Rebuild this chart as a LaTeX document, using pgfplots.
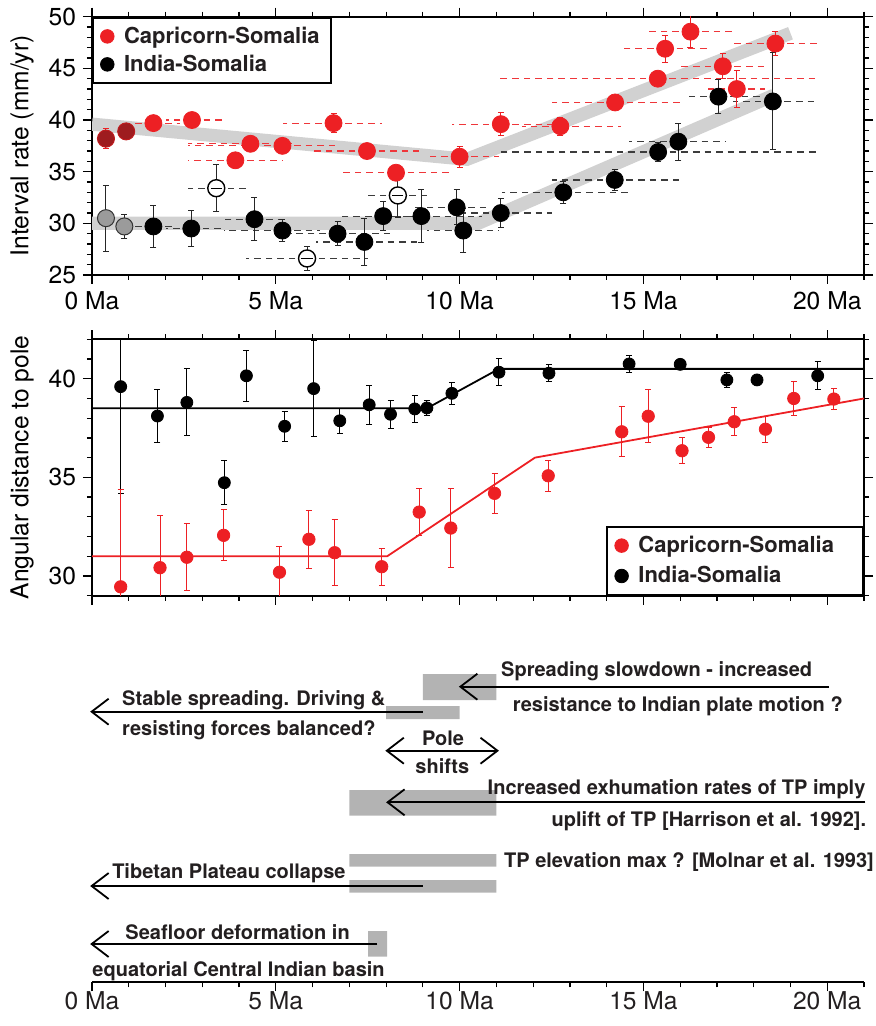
\documentclass[border=0pt]{standalone}
\usepackage{fontspec}
\setmainfont{TeX Gyre Heros}
\usepackage{pgfplots}
\usepackage{pgfplotstable}
\pgfplotsset{compat=1.18}
\usetikzlibrary{arrows.meta}
\definecolor{cred}{RGB}{237,32,36}
\definecolor{cdark}{RGB}{158,28,31}
\definecolor{cgraypt}{RGB}{155,155,155}
\definecolor{cband}{RGB}{209,209,209}
\definecolor{cbox}{RGB}{179,179,179}
\definecolor{ctext}{RGB}{35,31,32}
\definecolor{cdash}{RGB}{60,60,60}

\pgfplotstableread{
x y ey xa xb
0.38 38.2 0.97 0.38 0.38
0.93 38.9 0 0.93 0.93
}\capTopDark
\pgfplotstableread{
x y ey xa xb
1.67 39.7 0 0.9 2.4
2.72 40.0 0.7 2.0 3.6
3.90 36.1 0 2.6 5.2
4.31 37.7 0 2.6 5.5
5.18 37.5 0 2.6 6.75
6.57 39.7 0.9 5.2 7.9
7.48 37.0 0 6.0 8.9
8.27 34.9 0 6.75 9.75
10.00 36.45 1.0 9.1 11.07
11.12 39.6 1.1 9.8 12.5
12.74 39.4 0.85 11.7 14.4
14.23 41.7 0 12.5 16.0
15.39 44.0 0 11.07 19.75
15.59 46.9 1.3 14.4 16.75
16.28 48.55 1.55 15.1 17.4
17.16 45.2 1.2 16.0 18.3
17.54 43.0 1.8 16.75 18.3
18.59 47.4 1.2 17.43 19.75
}\capTop
\pgfplotstableread{
x y ey xa xb
0.38 30.5 3.2 0.38 0.38
0.88 29.7 1.15 0.73 1.3
}\indGray
\pgfplotstableread{
x y ey xa xb
3.38 33.4 2.3 2.6 4.2
5.85 26.6 1.2 4.2 7.5
8.32 32.7 2.1 7.5 9.1
}\indOpen
\pgfplotstableread{
x y ey xa xb
1.67 29.7 2.0 1.0 2.3
2.70 29.5 1.77 2.0 3.6
4.42 30.4 2.1 3.6 5.1
5.18 29.3 1.1 3.6 6.2
6.68 29.0 1.15 5.4 8.1
7.41 28.2 2.3 6.1 8.85
7.92 30.7 1.4 6.8 9.1
8.96 30.7 2.6 7.9 10.6
9.92 31.55 1.7 8.75 10.85
10.10 29.3 2.1 9.1 11.07
11.12 31.0 1.4 10.0 12.5
12.82 33.0 1.05 11.16 14.6
14.22 34.2 1.05 12.5 16.0
15.40 36.9 0.95 11.07 19.75
15.95 37.9 1.8 14.6 17.25
17.04 42.26 1.65 16.1 18.2
18.52 41.8 4.7 17.43 19.75
}\indTop
\pgfplotstableread{
x y ey
0.78 39.6 5.4
1.78 38.11 1.35
2.58 38.8 1.7
3.60 34.73 1.1
4.20 40.15 1.3
5.24 37.59 0.77
6.03 39.5 2.45
6.74 37.87 0.63
7.54 38.68 1.0
8.12 38.2 0.7
8.78 38.47 0.7
9.11 38.52 0.4
9.79 39.26 0.56
11.07 40.33 0.68
12.43 40.28 0.42
14.61 40.75 0.42
16.00 40.73 0
17.27 39.94 0.37
18.09 39.94 0
19.74 40.15 0.72
}\angInd
\pgfplotstableread{
x y ey
0.78 29.45 4.93
1.85 30.42 2.63
2.58 30.95 1.7
3.58 32.06 1.3
5.10 30.19 1.3
5.90 31.86 1.47
6.60 31.18 1.68
7.88 30.47 0.93
8.90 33.24 1.2
9.76 32.43 2.0
10.95 34.19 1.0
12.41 35.08 0.8
14.41 37.31 1.27
15.13 38.1 1.35
16.05 36.35 0.67
16.77 37.03 0.5
17.47 37.82 0.7
18.32 37.44 0.66
19.09 39.0 0.85
20.18 38.97 0.55
}\angCap

\pgfplotsset{
  panel/.style={
    scale only axis, width=386pt, xmin=0, xmax=21,
    xtick={0,5,10,15,20}, minor xtick={0,1,...,21},
    tick align=outside, tick pos=both,
    major tick length=4.5pt, minor tick length=2.5pt,
    axis line style={line width=1pt},
    tick style={line width=0.6pt, black},
    tick label style={font=\fontsize{12.3}{14}\selectfont},
    label style={font=\fontsize{12.3}{14}\selectfont},
    /pgf/number format/assume math mode=true,
  },
  dashr/.style={forget plot, only marks, mark=none,
    error bars/.cd, x dir=both, x explicit, error mark=none,
    error bar style={cred!90!white, dash pattern=on 3.3pt off 2.5pt, line width=0.6pt}},
  dashk/.style={forget plot, only marks, mark=none,
    error bars/.cd, x dir=both, x explicit, error mark=none,
    error bar style={cdash, dash pattern=on 3.3pt off 2.5pt, line width=0.6pt}},
  ebar/.style={error bars/.cd, y dir=both, y explicit,
    error bar style={line width=0.5pt, solid},
    error mark options={rotate=90, mark size=1.5pt, line width=0.5pt, solid}},
  leg/.style={legend style={draw=black, line width=1pt,
    font=\bfseries\fontsize{11}{12}\selectfont, text=ctext,
    inner xsep=3.75pt, inner ysep=2.5pt, row sep=#1, cells={anchor=west},
    /tikz/every odd column/.append style={column sep=3pt}},
    legend cell align=left},
}

\begin{document}
\begin{tikzpicture}
\path[use as bounding box] (0,0) rectangle (438pt,-513pt);

% ---------------- top panel ----------------
\begin{axis}[panel, at={(46pt,-137.5pt)}, anchor=south west, height=129.15pt,
  ymin=25, ymax=50, ytick={25,30,...,50}, minor ytick={25,...,50},
  xticklabels={0 Ma,5 Ma,10 Ma,15 Ma,20 Ma},
  ylabel={Interval rate (mm/yr)},
  ylabel style={at={(axis description cs:-0.0907,0.5)}, anchor=center},
  leg=0.3pt, legend style={at={(0,1)}, anchor=north west}]
\addplot[forget plot, cband, line width=6.6pt, line cap=butt, line join=miter] coordinates {(0,39.6) (10.2,36.2) (19.0,48.4)};
\addplot[forget plot, cband, line width=6.6pt, line cap=butt, line join=miter] coordinates {(0,30.0) (10.5,30.0) (18.55,42.4)};
\addplot[dashr] table[x=x, y=y, x error plus expr=\thisrow{xb}-\thisrow{x}, x error minus expr=\thisrow{x}-\thisrow{xa}] {\capTop};
\addplot[dashk] table[x=x, y=y, x error plus expr=\thisrow{xb}-\thisrow{x}, x error minus expr=\thisrow{x}-\thisrow{xa}] {\indTop};
\addplot[dashk] table[x=x, y=y, x error plus expr=\thisrow{xb}-\thisrow{x}, x error minus expr=\thisrow{x}-\thisrow{xa}] {\indOpen};
\addplot[dashk] table[x=x, y=y, x error plus expr=\thisrow{xb}-\thisrow{x}, x error minus expr=\thisrow{x}-\thisrow{xa}] {\indGray};
% points
\addplot[forget plot, only marks, cred, mark=*, mark size=4.25pt, mark options={fill=cred, draw=cred, line width=0.4pt}, ebar] table[x=x, y=y, y error=ey] {\capTop};
\addplot[forget plot, only marks, cred, mark=*, mark size=4.25pt, mark options={fill=cdark, draw=cred!80!black, line width=0.5pt}, ebar] table[x=x, y=y, y error=ey] {\capTopDark};
\addplot[forget plot, only marks, black!85, mark=*, mark size=4.25pt, mark options={fill=black, draw=black, line width=0.4pt}, ebar] table[x=x, y=y, y error=ey] {\indTop};
\addplot[forget plot, only marks, black!85, mark=*, mark size=4.25pt, mark options={fill=cgraypt, draw=black!80, line width=0.5pt}, ebar] table[x=x, y=y, y error=ey] {\indGray};
\addplot[forget plot, only marks, black!85, mark=*, mark size=4.25pt, mark options={fill=white, draw=black, line width=0.7pt}, ebar] table[x=x, y=y, y error=ey] {\indOpen};
\addplot[forget plot, only marks, black, mark=-, mark size=2.8pt, mark options={line width=0.7pt}] table[x=x, y=y] {\indOpen};
\addlegendimage{only marks, mark=*, mark size=3.4pt, cred, line width=0.4pt}
\addlegendentry{Capricorn-Somalia}
\addlegendimage{only marks, mark=*, mark size=3.4pt, black, line width=0.4pt}
\addlegendentry{India-Somalia}
\end{axis}

% ---------------- middle panel ----------------
\begin{axis}[panel, at={(46pt,-297.85pt)}, anchor=south west, height=128.2pt,
  ymin=29, ymax=42, ytick={30,35,40}, minor ytick={29,...,42},
  xticklabels={},
  ylabel={Angular distance to pole},
  ylabel style={at={(axis description cs:-0.0907,0.5)}, anchor=center},
  leg=1.5pt, legend style={at={(1,0)}, anchor=south east, inner xsep=4pt, inner ysep=2.5pt}]
\addplot[forget plot, black, line width=0.9pt] coordinates {(0,38.5) (9.11,38.5) (11.07,40.5) (21,40.5)};
\addplot[forget plot, cred, line width=0.9pt] coordinates {(0,31) (8.03,31) (12.05,36) (21,39)};
\addplot[forget plot, only marks, black, mark=*, mark size=3pt, ebar] table[x=x, y=y, y error=ey] {\angInd};
\addplot[forget plot, only marks, cred, mark=*, mark size=3.1pt, ebar] table[x=x, y=y, y error=ey] {\angCap};
\addlegendimage{only marks, mark=*, mark size=3.4pt, cred, line width=0.4pt}
\addlegendentry{Capricorn-Somalia\hspace*{8.5pt}}
\addlegendimage{only marks, mark=*, mark size=3.4pt, black, line width=0.4pt}
\addlegendentry{India-Somalia}
\end{axis}

% ---------------- bottom panel ----------------
\begin{axis}[panel, at={(46pt,-491.15pt)}, anchor=south west, height=160pt,
  ymin=0, ymax=320, axis x line*=bottom, axis y line=none,
  x axis line style={-}, tick pos=bottom,
  xticklabels={0 Ma,5 Ma,10 Ma,15 Ma,20 Ma}, clip=false,
  nodes={font=\bfseries\fontsize{10}{12}\selectfont, text=ctext, inner sep=0pt}]
% grey boxes
\addplot[forget plot, fill=cbox, draw=none] coordinates {(9,282.3) (11,282.3) (11,308.3) (9,308.3) (9,282.3)};
\addplot[forget plot, fill=cbox, draw=none] coordinates {(8,263.3) (10,263.3) (10,276.3) (8,276.3) (8,263.3)};
\addplot[forget plot, fill=cbox, draw=none] coordinates {(7,166.6) (11,166.6) (11,192.3) (7,192.3) (7,166.6)};
\addplot[forget plot, fill=cbox, draw=none] coordinates {(7,115.6) (11,115.6) (11,128.3) (7,128.3) (7,115.6)};
\addplot[forget plot, fill=cbox, draw=none] coordinates {(7,89.6) (11,89.6) (11,102.3) (7,102.3) (7,89.6)};
\addplot[forget plot, fill=cbox, draw=none] coordinates {(7.51,25.6) (8.03,25.6) (8.03,51.3) (7.51,51.3) (7.51,25.6)};
% arrows
\addplot[forget plot, black, line width=0.9pt, -{Straight Barb[length=8.5pt,width=13pt]}] coordinates {(20.05,295.6) (9.98,295.6)};
\addplot[forget plot, black, line width=0.9pt, -{Straight Barb[length=8.5pt,width=13pt]}] coordinates {(9.0,270.6) (-0.05,270.6)};
\addplot[forget plot, black, line width=0.9pt, {Straight Barb[length=8.5pt,width=13pt]}-{Straight Barb[length=8.5pt,width=13pt]}] coordinates {(7.98,231.6) (11.07,231.6)};
\addplot[forget plot, black, line width=0.9pt, -{Straight Barb[length=8.5pt,width=13pt]}] coordinates {(21.04,180) (8.0,180)};
\addplot[forget plot, black, line width=0.9pt, -{Straight Barb[length=8.5pt,width=13pt]}] coordinates {(9.0,96.3) (-0.05,96.3)};
\addplot[forget plot, black, line width=0.9pt, -{Straight Barb[length=8.5pt,width=13pt]}] coordinates {(7.76,38.3) (-0.05,38.3)};
% texts
\node[anchor=west] at (axis cs:11.12,311.3) {Spreading slowdown - increased};
\node[anchor=west] at (axis cs:11.44,275.6) {resistance to Indian plate motion ?};
\node[anchor=west] at (axis cs:0.81,282.3) {Stable spreading. Driving \&};
\node[anchor=west] at (axis cs:0.81,251.6) {resisting forces balanced?};
\node at (axis cs:9.55,244) {Pole};
\node at (axis cs:9.53,216.3) {shifts};
\node[anchor=east] at (axis cs:21.05,193.3) {Increased exhumation rates of TP imply};
\node[anchor=east] at (axis cs:21.07,161.3) {uplift of TP [Harrison et al. 1992].};
\node[anchor=east] at (axis cs:21.28,120.6) {TP elevation max ? [Molnar et al. 1993]};
\node[anchor=west] at (axis cs:0.54,109) {Tibetan Plateau collapse};
\node[anchor=west] at (axis cs:0.9,50.6) {Seafloor deformation in};
\node[anchor=west] at (axis cs:0,10.6) {equatorial Central Indian basin};
\end{axis}
\end{tikzpicture}
\end{document}
